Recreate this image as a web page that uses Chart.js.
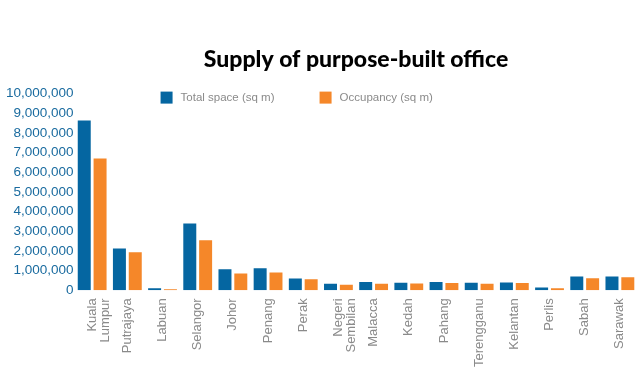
<!DOCTYPE html>
<html>
<head>
<meta charset="utf-8">
<script src="https://cdn.jsdelivr.net/npm/chart.js@4/dist/chart.umd.min.js"></script>
<style>
  html, body { margin: 0; padding: 0; background: #fff; }
  #wrap { width: 641px; height: 373px; }
</style>
</head>
<body>
<div id="wrap"><canvas id="c"></canvas></div>
<script>
const states = [
  ['Kuala', 'Lumpur'], 'Putrajaya', 'Labuan', 'Selangor', 'Johor', 'Penang', 'Perak',
  ['Negeri', 'Sembilan'], 'Malacca', 'Kedah', 'Pahang', 'Terengganu', 'Kelantan',
  'Perlis', 'Sabah', 'Sarawak'
];
const totalSpace = [8630000, 2130000, 100000, 3400000, 1070000, 1120000, 600000,
  330000, 420000, 390000, 420000, 380000, 400000, 150000, 700000, 700000];
const occupancy = [6700000, 1930000, 60000, 2540000, 860000, 910000, 560000,
  280000, 330000, 350000, 370000, 330000, 370000, 110000, 620000, 660000];
const seriesNames = ['Total space (sq m)', 'Occupancy (sq m)'];

const BLUE = '#0566a1';
const ORANGE = '#f58729';

// legend sits inside the plot area, so draw it by hand
const insideLegend = {
  id: 'insideLegend',
  afterDraw(chart) {
    const ctx = chart.ctx;
    const a = chart.chartArea;
    ctx.save();
    ctx.font = '11.5px "Liberation Sans", Arial, sans-serif';
    ctx.textBaseline = 'middle';
    const xs = [a.left + 86, a.left + 245];
    chart.data.datasets.forEach((ds, i) => {
      const x = xs[i], y = a.top - 2;
      ctx.fillStyle = ds.backgroundColor;
      ctx.fillRect(x, y, 12, 12);
      ctx.fillStyle = '#8a8a8a';
      ctx.fillText(ds.label, x + 20, y + 6);
    });
    ctx.restore();
  }
};

new Chart(document.getElementById('c'), {
  type: 'bar',
  data: {
    labels: states,
    datasets: [
      { label: seriesNames[0], data: totalSpace, backgroundColor: BLUE },
      { label: seriesNames[1], data: occupancy, backgroundColor: ORANGE }
    ]
  },
  options: {
    responsive: true,
    maintainAspectRatio: false,
    animation: false,
    layout: { padding: { left: 5, right: 0, top: 0, bottom: -2 } },
    datasets: { bar: { categoryPercentage: 0.9, barPercentage: 0.82 } },
    plugins: {
      legend: { display: false },
      tooltip: { enabled: false },
      title: {
        display: true,
        fullSize: false,
        text: 'Supply of purpose-built office',
        color: '#000',
        font: { family: 'Lato', size: 23, weight: '900' },
        padding: { top: 46, bottom: 20 }
      }
    },
    scales: {
      x: {
        grid: { display: false, drawTicks: false },
        border: { display: false },
        ticks: {
          color: '#8a8a8a',
          font: { family: '"Liberation Sans", Arial, sans-serif', size: 13, lineHeight: 1 },
          minRotation: 90,
          maxRotation: 90,
          autoSkip: false,
          padding: 8
        }
      },
      y: {
        min: 0,
        max: 10000000,
        grid: { display: false, drawTicks: false },
        border: { display: false },
        ticks: {
          stepSize: 1000000,
          autoSkip: false,
          color: '#1a6b9f',
          font: { family: '"Liberation Sans", Arial, sans-serif', size: 13.5 },
          padding: 1,
          callback: v => v.toLocaleString('en-US')
        }
      }
    }
  },
  plugins: [insideLegend]
});
</script>
</body>
</html>
